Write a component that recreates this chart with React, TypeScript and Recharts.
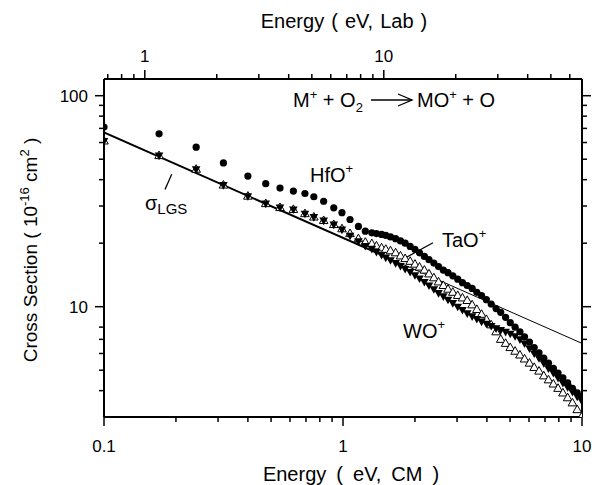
import React from 'react';
import { ComposedChart, XAxis, YAxis, Scatter, Line, ReferenceLine } from 'recharts';

const W = 595;
const H = 485;
const PLOT = { left: 104, right: 582, top: 79, bottom: 417 };
const AXIS_SIZE = 20;
const FONT = '"Liberation Sans", Arial, Helvetica, sans-serif';

// top axis is the same energy in the lab frame
const LAB_FACTOR = 6.75;
const cmDomain = [0.1, 10];
const labDomain = [cmDomain[0] * LAB_FACTOR, cmDomain[1] * LAB_FACTOR];
const sigmaDomain = [3, 120];

const cmTicks = [0.1, 0.2, 0.3, 0.4, 0.5, 0.6, 0.7, 0.8, 0.9, 1, 2, 3, 4, 5, 6, 7, 8, 9, 10];
const cmLabels = [0.1, 1, 10];
const labTicks = [0.7, 0.8, 0.9, 1, 2, 3, 4, 5, 6, 7, 8, 9, 10, 20, 30, 40, 50, 60];
const labLabels = [1, 10];
const sigmaTicks = [4, 5, 6, 7, 8, 10, 20, 30, 40, 50, 60, 70, 80, 90, 100];
const sigmaLabels = [10, 100];

// sparse low energy points (eV, CM)
const lowE = [0.1, 0.17, 0.243, 0.316, 0.4, 0.475, 0.545, 0.62, 0.693, 0.755, 0.83, 0.915, 0.99, 1.07, 1.16, 1.24];
const hfLow = [71, 66, 57, 48, 41.6, 38.3, 36.5, 35.3, 34.4, 33.2, 31.6, 29.4, 27.9, 25.9, 24.0, 22.8];
const taLow = [61, 52, 44.8, 37.7, 33.4, 30.8, 29.5, 28.9, 27.6, 26.6, 25.6, 24.5, 23.4, 22.2, 21.0, 20.2];
const woLow = [61, 52, 44.8, 37.7, 33.4, 30.8, 29.5, 28.9, 27.6, 26.6, 25.6, 24.5, 23.2, 21.7, 20.4, 19.4];

// dense part above ~1.3 eV
const denseE = [
  1.32, 1.38, 1.45, 1.51, 1.58, 1.66, 1.74, 1.82, 1.91, 2.0, 2.09, 2.19, 2.29, 2.4, 2.51,
  2.63, 2.75, 2.88, 3.02, 3.16, 3.31, 3.47, 3.63, 3.8, 3.98, 4.17, 4.37, 4.57, 4.79, 5.01,
  5.25, 5.5, 5.75, 6.03, 6.31, 6.61, 6.92, 7.24, 7.59, 7.94, 8.32, 8.71, 9.12, 9.55, 9.95,
];
const hfDense = [
  22.4, 22.2, 22.0, 21.8, 21.4, 21.0, 20.5, 20.0, 19.3, 18.7, 18.0, 17.3, 16.7, 16.1, 15.5,
  14.9, 14.5, 14.0, 13.5, 13.0, 12.6, 12.2, 11.7, 11.3, 10.8, 10.3, 9.8, 9.4, 8.9, 8.4,
  8.0, 7.6, 7.2, 6.8, 6.4, 6.05, 5.7, 5.4, 5.1, 4.85, 4.6, 4.35, 4.1, 3.9, 3.75,
];
const taDense = [
  19.9, 19.4, 19.0, 18.7, 18.4, 18.0, 17.4, 16.9, 16.4, 15.9, 15.4, 14.9, 14.3, 13.7, 13.1,
  12.6, 12.1, 11.7, 11.3, 11.0, 10.7, 10.2, 9.7, 9.2, 8.7, 8.2, 7.6, 7.0, 6.7, 6.4,
  6.15, 5.9, 5.65, 5.4, 5.15, 4.95, 4.7, 4.5, 4.3, 4.1, 3.9, 3.7, 3.5, 3.25, 3.0,
];
const woDense = [
  18.8, 18.2, 17.6, 17.1, 16.6, 16.1, 15.6, 15.1, 14.6, 14.1, 13.6, 13.1, 12.6, 12.1, 11.6,
  11.2, 10.8, 10.4, 10.0, 9.65, 9.3, 9.0, 8.75, 8.5, 8.3, 8.1, 7.9, 7.75, 7.6, 7.45,
  7.25, 7.0, 6.7, 6.35, 6.0, 5.7, 5.4, 5.1, 4.85, 4.6, 4.35, 4.15, 3.95, 3.75, 3.6,
];

// LGS line (E^-1/2), read at its ends
const lgsE = [0.1, 1.5, 10];
const lgsSigma = [67, 17.3, 6.7];

const build = (lo: number[], dense: number[]) => [
  ...lowE.map((e, i) => ({ x: e, y: lo[i] })),
  ...denseE.map((e, i) => ({ x: e, y: dense[i] })),
];
const hfData = build(hfLow, hfDense);
const taData = build(taLow, taDense);
const woData = build(woLow, woDense);
const lgsLeft = [{ x: lgsE[0], y: lgsSigma[0] }, { x: lgsE[1], y: lgsSigma[1] }];
const lgsRight = [{ x: lgsE[1], y: lgsSigma[1] }, { x: lgsE[2], y: lgsSigma[2] }];
// invisible, only so the lab axis and right axis get a domain to draw
const frameData = [
  { x: labDomain[0], y: sigmaDomain[0] },
  { x: labDomain[1], y: sigmaDomain[1] },
];

const Circle = (p: any) => <circle cx={p.cx} cy={p.cy} r={3.6} fill="#000" />;
const TriUp = (p: any) => (
  <polygon
    points={`${p.cx},${p.cy - 4.6} ${p.cx - 4.3},${p.cy + 3} ${p.cx + 4.3},${p.cy + 3}`}
    fill="#fff"
    stroke="#000"
    strokeWidth={1}
  />
);
const TriDown = (p: any) => (
  <polygon
    points={`${p.cx - 4.3},${p.cy - 3} ${p.cx + 4.3},${p.cy - 3} ${p.cx},${p.cy + 4.6}`}
    fill="#000"
  />
);
const Nothing = () => <g />;

const BottomTick = (props: any) => {
  const { x, payload } = props;
  const major = cmLabels.includes(payload.value);
  return (
    <g>
      <line x1={x} x2={x} y1={PLOT.bottom} y2={PLOT.bottom + (major ? 9 : 5)} stroke="#000" strokeWidth={1.5} />
      {major && (
        <text x={x} y={452} textAnchor="middle" fontSize={17} fontFamily={FONT} fill="#000">
          {payload.value}
        </text>
      )}
    </g>
  );
};

const TopTick = (props: any) => {
  const { x, payload } = props;
  const major = labLabels.includes(payload.value);
  return (
    <g>
      <line x1={x} x2={x} y1={PLOT.top} y2={PLOT.top - (major ? 9 : 5)} stroke="#000" strokeWidth={1.5} />
      {major && (
        <text x={x} y={62} textAnchor="middle" fontSize={17} fontFamily={FONT} fill="#000">
          {payload.value}
        </text>
      )}
    </g>
  );
};

const LeftTick = (props: any) => {
  const { y, payload } = props;
  const major = sigmaLabels.includes(payload.value);
  return (
    <g>
      <line x1={PLOT.left - (major ? 9 : 5)} x2={PLOT.left} y1={y} y2={y} stroke="#000" strokeWidth={1.5} />
      {major && (
        <text x={88} y={y + 6} textAnchor="end" fontSize={17} fontFamily={FONT} fill="#000">
          {payload.value}
        </text>
      )}
    </g>
  );
};

const RightTick = (props: any) => {
  const { y, payload } = props;
  const major = sigmaLabels.includes(payload.value);
  return <line x1={PLOT.right} x2={PLOT.right + (major ? 9 : 5)} y1={y} y2={y} stroke="#000" strokeWidth={1.5} />;
};

const axisLine = { stroke: '#000', strokeWidth: 2 };

const Annotations = () => (
  <svg width={W} height={H} style={{ position: 'absolute', left: 0, top: 0, pointerEvents: 'none' }}>
    <g fontFamily={FONT} fill="#000">
      <text x={344} y={28} textAnchor="middle" fontSize={20} wordSpacing={1.5}>
        Energy ( eV, Lab )
      </text>
      <text x={351} y={481} textAnchor="middle" fontSize={20} wordSpacing={4.5}>
        Energy ( eV, CM )
      </text>
      <text transform="rotate(-90)" x={-250} y={37} textAnchor="middle" fontSize={19}>
        Cross Section ( 10<tspan dy={-8} fontSize={13}>-16</tspan>
        <tspan dy={8}> cm</tspan>
        <tspan dy={-8} fontSize={13}>2</tspan>
        <tspan dy={8}> )</tspan>
      </text>

      <text x={293} y={107} fontSize={20}>
        M<tspan dy={-8} fontSize={13}>+</tspan>
        <tspan dy={8}> + O</tspan>
        <tspan dy={5} fontSize={13}>2</tspan>
      </text>
      <line x1={371} x2={412} y1={100} y2={100} stroke="#000" strokeWidth={1.3} />
      <polyline points="398,94 412,100 398,106" fill="none" stroke="#000" strokeWidth={1.3} />
      <text x={417} y={107} fontSize={20}>
        MO<tspan dy={-8} fontSize={13}>+</tspan>
        <tspan dy={8}> + O</tspan>
      </text>

      <text x={310} y={182} fontSize={20}>
        HfO<tspan dy={-9} fontSize={13}>+</tspan>
      </text>
      <text x={442} y={247} fontSize={20}>
        TaO<tspan dy={-9} fontSize={13}>+</tspan>
      </text>
      <text x={403} y={338} fontSize={20}>
        WO<tspan dy={-9} fontSize={13}>+</tspan>
      </text>
      <text x={145} y={210} fontSize={20}>
        σ<tspan dy={4} fontSize={15}>LGS</tspan>
      </text>
    </g>
  </svg>
);

export default function App() {
  return (
    <div style={{ position: 'absolute', left: 0, top: 0, width: W, height: H, background: '#fff' }}>
      <ComposedChart
        width={W}
        height={H}
        margin={{
          top: PLOT.top - AXIS_SIZE,
          right: W - PLOT.right - AXIS_SIZE,
          bottom: H - PLOT.bottom - AXIS_SIZE,
          left: PLOT.left - AXIS_SIZE,
        }}
      >
        <XAxis
          xAxisId="cm"
          dataKey="x"
          type="number"
          scale="log"
          domain={cmDomain}
          allowDataOverflow
          ticks={cmTicks}
          interval={0}
          tick={BottomTick}
          tickLine={false}
          height={AXIS_SIZE}
          axisLine={axisLine}
        />
        <XAxis
          xAxisId="lab"
          dataKey="x"
          orientation="top"
          type="number"
          scale="log"
          domain={labDomain}
          allowDataOverflow
          ticks={labTicks}
          interval={0}
          tick={TopTick}
          tickLine={false}
          height={AXIS_SIZE}
          axisLine={axisLine}
        />
        <YAxis
          yAxisId="left"
          dataKey="y"
          type="number"
          scale="log"
          domain={sigmaDomain}
          allowDataOverflow
          ticks={sigmaTicks}
          interval={0}
          tick={LeftTick}
          tickLine={false}
          width={AXIS_SIZE}
          axisLine={axisLine}
        />
        <YAxis
          yAxisId="right"
          dataKey="y"
          orientation="right"
          type="number"
          scale="log"
          domain={sigmaDomain}
          allowDataOverflow
          ticks={sigmaTicks}
          interval={0}
          tick={RightTick}
          tickLine={false}
          width={AXIS_SIZE}
          axisLine={axisLine}
        />

        <Scatter xAxisId="lab" yAxisId="right" data={frameData} shape={Nothing} isAnimationActive={false} />

        <Scatter xAxisId="cm" yAxisId="left" data={hfData} shape={Circle} isAnimationActive={false} />
        <Scatter xAxisId="cm" yAxisId="left" data={taData} shape={TriUp} isAnimationActive={false} />
        <Scatter xAxisId="cm" yAxisId="left" data={woData} shape={TriDown} isAnimationActive={false} />

        <Line xAxisId="cm" yAxisId="left" data={lgsLeft} dataKey="y" type="linear" stroke="#000" strokeWidth={2} dot={false} isAnimationActive={false} />
        <Line xAxisId="cm" yAxisId="left" data={lgsRight} dataKey="y" type="linear" stroke="#000" strokeWidth={1} dot={false} isAnimationActive={false} />

        <ReferenceLine xAxisId="cm" yAxisId="left" segment={[{ x: 0.192, y: 42.4 }, { x: 0.18, y: 35.9 }]} stroke="#000" strokeWidth={1.3} />
        <ReferenceLine xAxisId="cm" yAxisId="left" segment={[{ x: 2.38, y: 20.1 }, { x: 1.835, y: 17.1 }]} stroke="#000" strokeWidth={1.3} />
      </ComposedChart>
      <Annotations />
    </div>
  );
}
